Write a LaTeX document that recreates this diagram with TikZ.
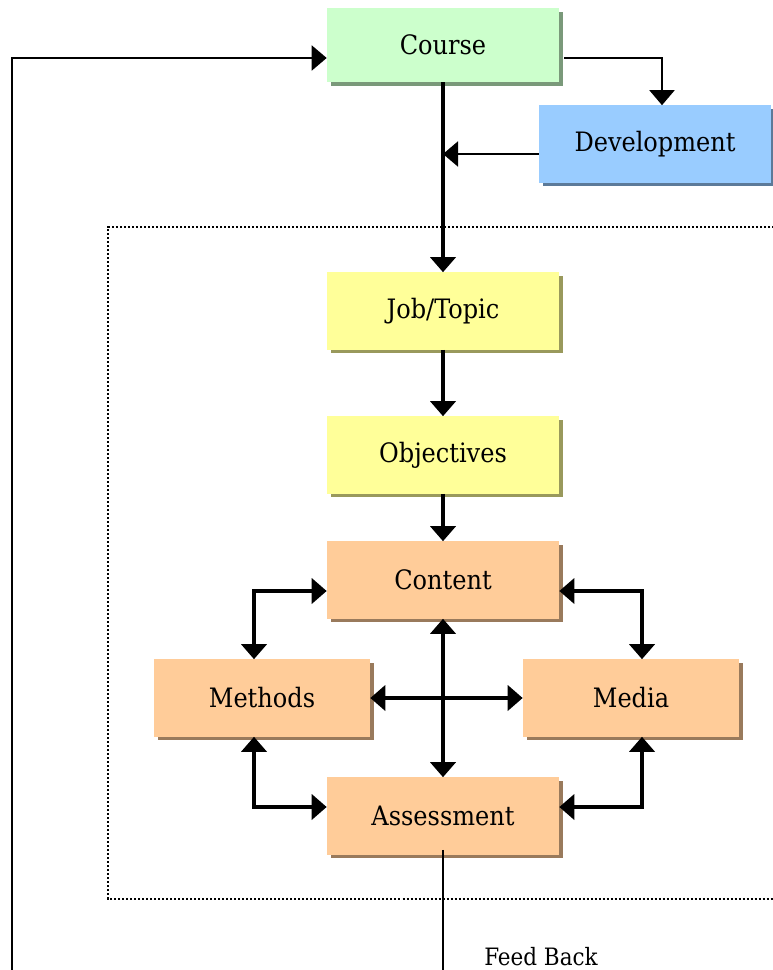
\documentclass[tikz,border=0pt]{standalone}
\usepackage{fontspec}
\setmainfont{DejaVu Serif Condensed}
\usepackage{tikz}
\usetikzlibrary{arrows.meta}
\usetikzlibrary{shadows, calc}

\definecolor{coursegreen}{HTML}{CCFFCC}
\definecolor{devblue}{HTML}{99CCFF}
\definecolor{topicyellow}{HTML}{FFFF99}
\definecolor{contentorange}{HTML}{FFCC99}

\begin{document}
\begin{tikzpicture}%
	[x=0.025cm, y=-0.025cm,
	box/.style={inner sep=0pt, minimum width=5.8cm, minimum height=1.925cm, font=\fontsize{19}{23}\selectfont},
	small box/.style={box, minimum width=5.4cm},
	green box/.style={box, fill=coursegreen, drop shadow={shadow xshift=0.09cm, shadow yshift=-0.09cm, fill=coursegreen!60!black, opacity=1}},
	blue box/.style={box, fill=devblue, drop shadow={shadow xshift=0.09cm, shadow yshift=-0.09cm, fill=devblue!60!black, opacity=1}},
	yellow box/.style={box, fill=topicyellow, drop shadow={shadow xshift=0.09cm, shadow yshift=-0.09cm, fill=topicyellow!60!black, opacity=1}},
	orange box/.style={fill=contentorange, drop shadow={shadow xshift=0.09cm, shadow yshift=-0.09cm, fill=contentorange!60!black, opacity=1}},
	flow/.style={line width=0.1cm, -{Triangle[length=0.375cm, width=0.625cm]}},
	twoway/.style={line width=0.1cm, {Triangle[length=0.375cm, width=0.625cm]}-{Triangle[length=0.375cm, width=0.625cm]}},
	link/.style={line width=0.05cm, -{Triangle[length=0.375cm, width=0.625cm]}},
	plain/.style={line width=0.05cm},
	dotframe/.style={line width=0.05cm, dash pattern=on 0.05cm off 0.05cm}]
%
\useasboundingbox (0,0) rectangle (773,970);
%%
%% Dotted frame round the design steps
%%
\draw[dotframe] (790,227) -- (108,227) -- (108,899) -- (790,899);
%%
%% Boxes
%%
\node[green box] (course) at (443,45) [minimum height=1.85cm] {Course};
\node[blue box] (dev) at (655,144) {Development};
\node[yellow box] (job) at (443,311) {Job/Topic};
\node[yellow box] (obj) at (443,455) {Objectives};
\node[box, orange box] (content) at (443,580) {Content};
\node[small box, orange box] (methods) at (262,698) {Methods};
\node[small box, orange box] (media) at (631,698) {Media};
\node[box, orange box] (assess) at (443,816) {Assessment};
%%
%% Loose ends below the picture
%%
\coordinate (fbend) at (443,985);
\coordinate (retend) at (12,985);
\coordinate (devout) at ($(dev.west)+(0,10)$);
%%
%% Drawing connectors
%%
\draw[flow] (course.south) -- (job.north);
\draw[flow] (job.south) -- (obj.north);
\draw[flow] (obj.south) -- (content.north);
\draw[link] ($(course.east)+(5,13)$) -| ($(dev.north)+(7,0)$);
\draw[link] (devout) -- (course.south |- devout);
\draw[twoway] (content.south) -- (assess.north);
\draw[twoway] (methods.east) -- (media.west);
\draw[twoway] ($(methods.north)+(-8,0)$) |- ($(content.west)+(0,11)$);
\draw[twoway] ($(media.north)+(11,0)$) |- ($(content.east)+(0,11)$);
\draw[twoway] ($(methods.south)+(-8,0)$) |- ($(assess.west)+(0,-9)$);
\draw[twoway] ($(media.south)+(11,0)$) |- ($(assess.east)+(0,-9)$);
%%
%% Feed back loop
%%
\draw[plain] ($(assess.south)+(0,-5)$) -- (fbend);
\draw[link] (retend) |- ($(course.west)+(0,13)$);
\node[font=\fontsize{17}{20}\selectfont] (fbtext) at (541,957) {Feed Back};
%%
\end{tikzpicture}
\end{document}
